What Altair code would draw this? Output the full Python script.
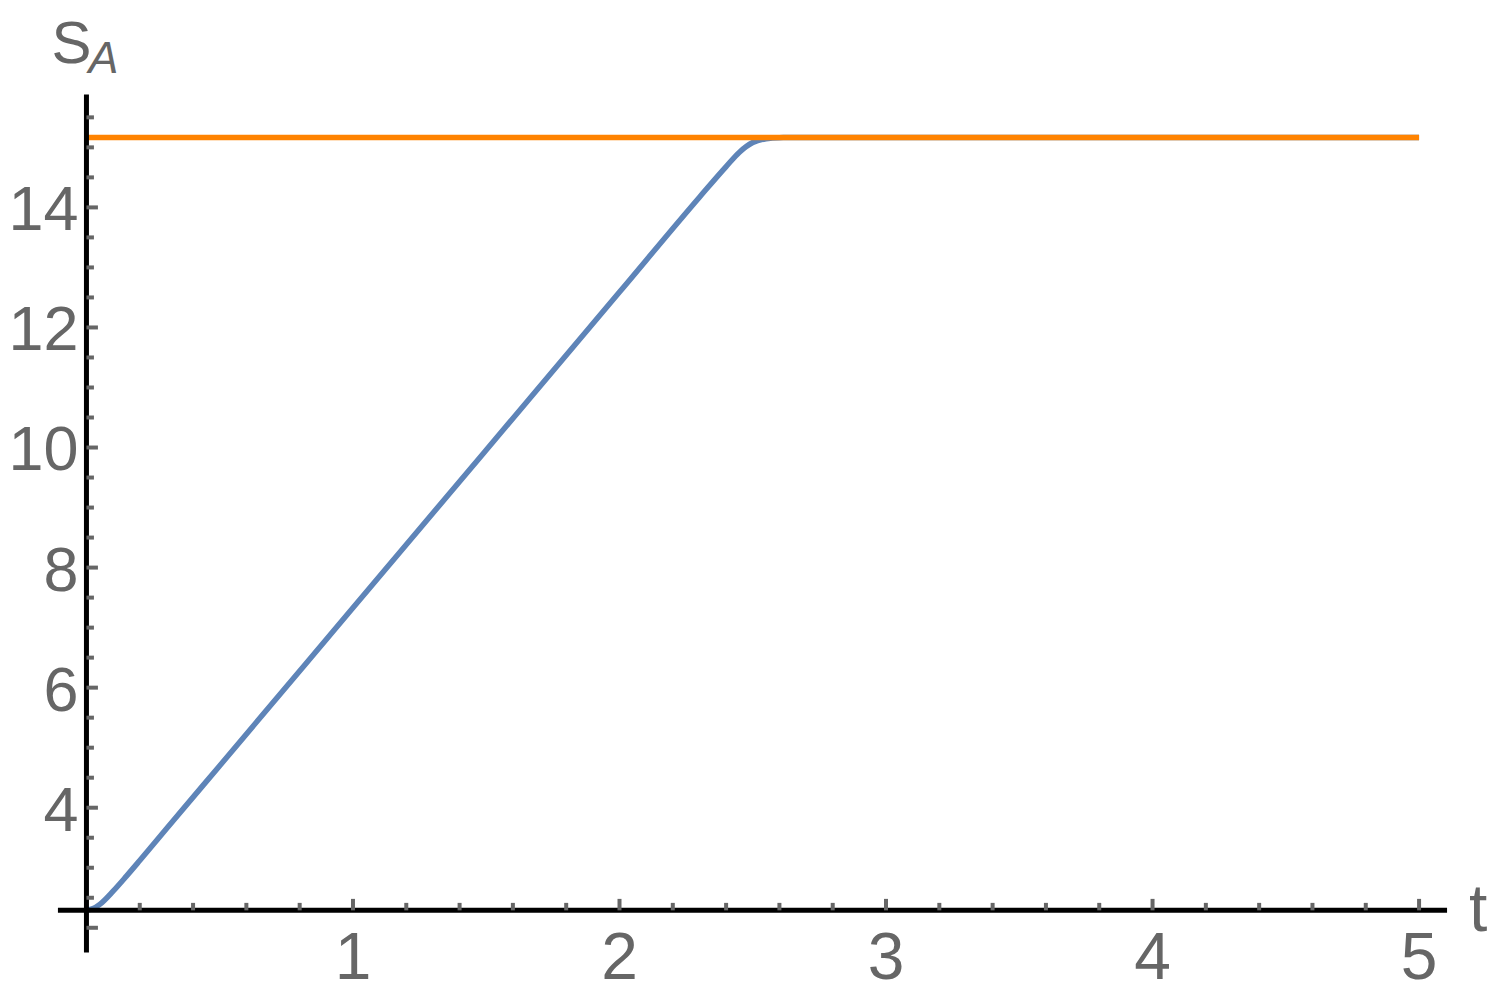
import altair as alt
import pandas as pd

# ---- data ----
t_vals = [0.0, 0.025, 0.05, 0.1, 0.15, 0.2, 0.3, 0.5, 1.0, 1.5, 2.0, 2.3, 2.4, 2.45, 2.5, 2.55, 2.6, 2.7, 5.0]
s_vals = [2.29, 2.32, 2.39, 2.61, 2.86, 3.12, 3.65, 4.70, 7.33, 9.96, 12.59, 14.17, 14.68, 14.92, 15.08, 15.145, 15.162, 15.165, 15.165]

limit_t = [0.0, 5.0]
limit_s = [15.165, 15.165]

x_major = [1, 2, 3, 4, 5]
x_minor = [0.2, 0.4, 0.6, 0.8, 1.2, 1.4, 1.6, 1.8, 2.2, 2.4, 2.6, 2.8,
           3.2, 3.4, 3.6, 3.8, 4.2, 4.4, 4.6, 4.8]
x_tick_labels = ["1", "2", "3", "4", "5"]

y_major = [2, 4, 6, 8, 10, 12, 14]
y_minor = [2.5, 3, 3.5, 4.5, 5, 5.5, 6.5, 7, 7.5, 8.5, 9, 9.5, 10.5, 11, 11.5,
           12.5, 13, 13.5, 14.5, 15, 15.5]
y_label_vals = [4, 6, 8, 10, 12, 14]
y_tick_labels = ["4", "6", "8", "10", "12", "14"]

# ---- layout / style ----
X_MIN, X_MAX = -0.107, 5.105
Y_MIN, Y_MAX = 1.59, 15.88
AXIS_Y = 2.29   # where the t axis crosses
AXIS_X = 0.0    # where the S axis crosses

FONT = "Liberation Sans"
LABEL_COLOR = "#666666"
TICK_COLOR = "#666666"
BLUE = "#5E84B8"
ORANGE = "#FF8300"

xs = alt.Scale(domain=[X_MIN, X_MAX], nice=False, zero=False)
ys = alt.Scale(domain=[Y_MIN, Y_MAX], nice=False, zero=False)


def X(f):
    return alt.X(f, type="quantitative", scale=xs, axis=None)


def Y(f):
    return alt.Y(f, type="quantitative", scale=ys, axis=None)


curve_df = pd.DataFrame({"t": t_vals, "s": s_vals})
limit_df = pd.DataFrame({"t": limit_t, "s": limit_s})

xaxis_df = pd.DataFrame({"x": [X_MIN], "x2": [X_MAX], "y": [AXIS_Y]})
yaxis_df = pd.DataFrame({"y": [Y_MIN], "y2": [Y_MAX], "x": [AXIS_X]})

xmaj_df = pd.DataFrame({"v": x_major, "b": [AXIS_Y] * len(x_major)})
xmin_df = pd.DataFrame({"v": x_minor, "b": [AXIS_Y] * len(x_minor)})
ymaj_df = pd.DataFrame({"v": y_major, "b": [AXIS_X] * len(y_major)})
ymin_df = pd.DataFrame({"v": y_minor, "b": [AXIS_X] * len(y_minor)})

xlab_df = pd.DataFrame({"v": x_major, "b": [AXIS_Y] * len(x_major), "lab": x_tick_labels})
ylab_df = pd.DataFrame({"v": y_label_vals, "b": [AXIS_X] * len(y_label_vals), "lab": y_tick_labels})

tname_df = pd.DataFrame({"x": [X_MAX], "y": [AXIS_Y], "lab": ["t"]})
sname_df = pd.DataFrame({"x": [AXIS_X], "y": [Y_MAX], "lab": ["S"]})
aname_df = pd.DataFrame({"x": [AXIS_X], "y": [Y_MAX], "lab": ["A"]})

curve = alt.Chart(curve_df).mark_line(
    color=BLUE, strokeWidth=5.5, interpolate="monotone", strokeCap="butt"
).encode(x=X("t"), y=Y("s"))

limit = alt.Chart(limit_df).mark_line(
    color=ORANGE, strokeWidth=5.5, strokeCap="butt"
).encode(x=X("t"), y=Y("s"))

xaxis = alt.Chart(xaxis_df).mark_rule(color="black", strokeWidth=5).encode(
    x=X("x"), x2="x2", y=Y("y"))
yaxis = alt.Chart(yaxis_df).mark_rule(color="black", strokeWidth=5).encode(
    y=Y("y"), y2="y2", x=X("x"))

xmaj = alt.Chart(xmaj_df).mark_rule(color=TICK_COLOR, strokeWidth=4, y2Offset=-11.5).encode(
    x=X("v"), y=Y("b"), y2="b")
xmin = alt.Chart(xmin_df).mark_rule(color=TICK_COLOR, strokeWidth=4, y2Offset=-7.5).encode(
    x=X("v"), y=Y("b"), y2="b")
ymaj = alt.Chart(ymaj_df).mark_rule(color=TICK_COLOR, strokeWidth=4, x2Offset=11.5).encode(
    y=Y("v"), x=X("b"), x2="b")
ymin = alt.Chart(ymin_df).mark_rule(color=TICK_COLOR, strokeWidth=4, x2Offset=7.5).encode(
    y=Y("v"), x=X("b"), x2="b")

xlab = alt.Chart(xlab_df).mark_text(
    font=FONT, fontSize=66, color=LABEL_COLOR, align="center", baseline="alphabetic", dy=69
).encode(x=X("v"), y=Y("b"), text="lab:N")

ylab = alt.Chart(ylab_df).mark_text(
    font=FONT, fontSize=63, color=LABEL_COLOR, align="right", baseline="alphabetic", dx=-8, dy=23
).encode(x=X("b"), y=Y("v"), text="lab:N")

tname = alt.Chart(tname_df).mark_text(
    font=FONT, fontSize=66, color=LABEL_COLOR, align="left", baseline="alphabetic", dx=22, dy=21
).encode(x=X("x"), y=Y("y"), text="lab:N")

sname = alt.Chart(sname_df).mark_text(
    font=FONT, fontSize=60, color=LABEL_COLOR, align="left", baseline="alphabetic", dx=-35, dy=-32
).encode(x=X("x"), y=Y("y"), text="lab:N")

aname = alt.Chart(aname_df).mark_text(
    font=FONT, fontSize=45, fontStyle="italic", color=LABEL_COLOR, align="left",
    baseline="alphabetic", dx=2, dy=-22
).encode(x=X("x"), y=Y("y"), text="lab:N")

chart = alt.layer(
    curve, limit, xaxis, yaxis, xmaj, xmin, ymaj, ymin, xlab, ylab, tname, sname, aname
).properties(
    width=1391, height=859,
    background="white",
    autosize=alt.AutoSizeParams(type="none"),
    padding={"left": 50, "top": 86, "right": 40, "bottom": 40},
).configure_view(strokeWidth=0, stroke=None)

chart.save("out.html", embed_options={"renderer": "svg", "actions": False})
